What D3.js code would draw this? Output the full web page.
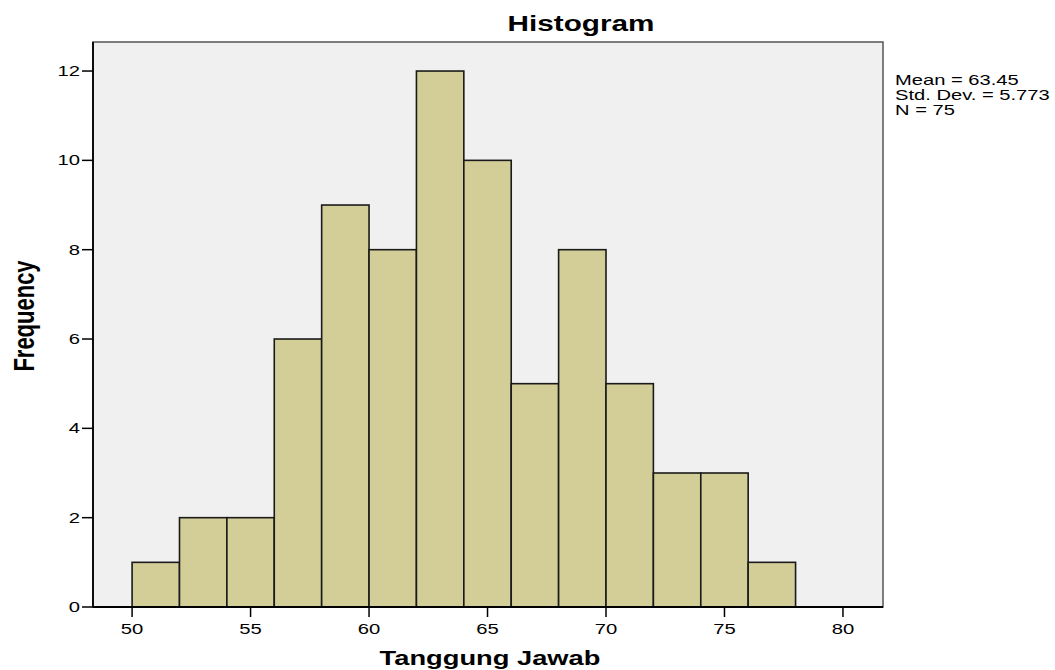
<!DOCTYPE html>
<html>
<head>
<meta charset="utf-8">
<script src="https://cdn.jsdelivr.net/npm/d3@7"></script>
<style>
  body { margin: 0; background: #fff; }
  text { font-family: "Liberation Sans", Arial, sans-serif; fill: #000; }
</style>
</head>
<body>
<div id="chart"></div>
<script>
// Histogram data: bin edges and counts
let binStarts = [50, 52, 54, 56, 58, 60, 62, 64, 66, 68, 70, 72, 74, 76];
let binWidth = 2;
let counts = [1, 2, 2, 6, 9, 8, 12, 10, 5, 8, 5, 3, 3, 1];
let xTicks = [50, 55, 60, 65, 70, 75, 80];
let yTicks = [0, 2, 4, 6, 8, 10, 12];
let statLines = ["Mean = 63.45", "Std. Dev. = 5.773", "N = 75"];

let bins = binStarts.map((s, i) => ({x0: s, x1: s + binWidth, count: counts[i]}));

let W = 1055, H = 670;
let plot = {left: 93, right: 883, top: 42, bottom: 607};
let stretch = 1.35; // the original text is drawn wide

let svg = d3.select("#chart").append("svg")
    .attr("width", W)
    .attr("height", H);

let x = d3.scaleLinear()
    .domain([48.35, 81.69])
    .range([plot.left, plot.right]);

let y = d3.scaleLinear()
    .domain([0, 12.65])
    .range([plot.bottom, plot.top]);

// plot background
svg.append("rect")
    .attr("x", plot.left)
    .attr("y", plot.top)
    .attr("width", plot.right - plot.left)
    .attr("height", plot.bottom - plot.top)
    .attr("fill", "#f0f0f0")
    .attr("stroke", "#555")
    .attr("stroke-width", 1.5);

// bars
svg.append("g").selectAll("rect")
    .data(bins)
    .enter().append("rect")
    .attr("x", d => x(d.x0))
    .attr("y", d => y(d.count))
    .attr("width", d => x(d.x1) - x(d.x0))
    .attr("height", d => y(0) - y(d.count))
    .attr("fill", "#d3ce98")
    .attr("stroke", "#1a1a1a")
    .attr("stroke-width", 1.6);

// axes lines drawn over the frame
svg.append("line")
    .attr("x1", plot.left).attr("x2", plot.left)
    .attr("y1", plot.top).attr("y2", plot.bottom)
    .attr("stroke", "#000").attr("stroke-width", 1.8);
svg.append("line")
    .attr("x1", plot.left).attr("x2", plot.right)
    .attr("y1", plot.bottom).attr("y2", plot.bottom)
    .attr("stroke", "#000").attr("stroke-width", 1.8);

// y ticks
let yg = svg.append("g");
yTicks.forEach(function(t) {
    yg.append("line")
        .attr("x1", plot.left - 11).attr("x2", plot.left)
        .attr("y1", y(t)).attr("y2", y(t))
        .attr("stroke", "#000").attr("stroke-width", 1.5);
    yg.append("text")
        .attr("transform", "translate(" + (plot.left - 13) + "," + (y(t) + 5) + ") scale(" + stretch + ",1)")
        .attr("text-anchor", "end")
        .attr("font-size", 15)
        .text(t);
});

// x ticks
let xg = svg.append("g");
xTicks.forEach(function(t) {
    xg.append("line")
        .attr("x1", x(t)).attr("x2", x(t))
        .attr("y1", plot.bottom).attr("y2", plot.bottom + 10)
        .attr("stroke", "#000").attr("stroke-width", 1.5);
    xg.append("text")
        .attr("transform", "translate(" + x(t) + "," + (plot.bottom + 27) + ") scale(" + stretch + ",1)")
        .attr("text-anchor", "middle")
        .attr("font-size", 15)
        .text(t);
});

// title
svg.append("text")
    .attr("transform", "translate(581,31) scale(" + stretch + ",1)")
    .attr("text-anchor", "middle")
    .attr("font-size", 22)
    .attr("font-weight", "bold")
    .text("Histogram");

// x axis label
svg.append("text")
    .attr("transform", "translate(490,665) scale(1.3,1)")
    .attr("text-anchor", "middle")
    .attr("font-size", 21)
    .attr("font-weight", "bold")
    .text("Tanggung Jawab");

// y axis label
svg.append("text")
    .attr("transform", "translate(34,316) scale(1.3,1) rotate(-90)")
    .attr("text-anchor", "middle")
    .attr("font-size", 22)
    .attr("font-weight", "bold")
    .text("Frequency");

// stats
svg.append("g").selectAll("text")
    .data(statLines)
    .enter().append("text")
    .attr("transform", (d, i) => "translate(895," + (85 + i * 15) + ") scale(1.44,1)")
    .attr("font-size", 14)
    .text(d => d);
</script>
</body>
</html>
